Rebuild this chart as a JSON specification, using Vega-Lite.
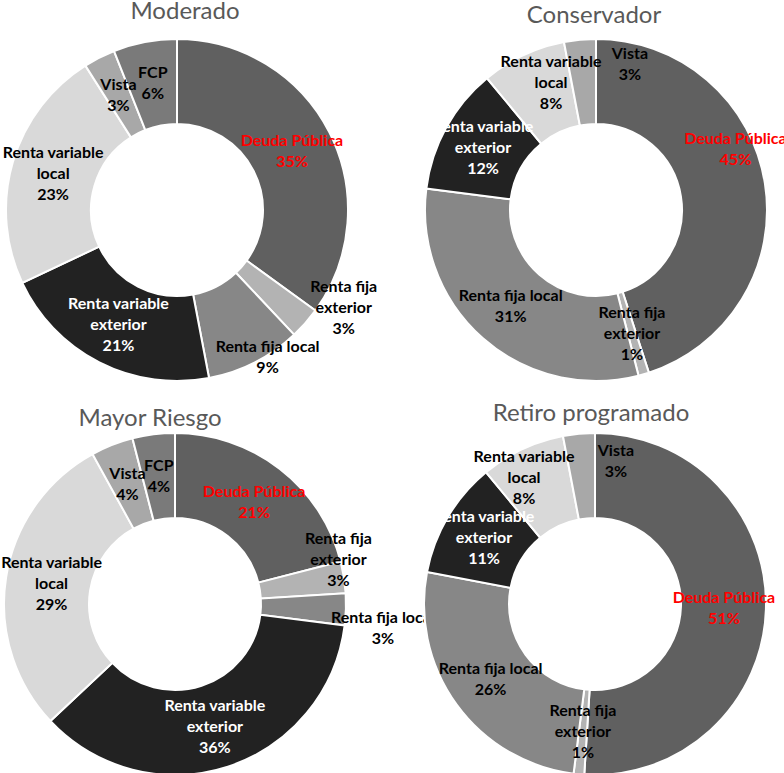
{
  "$schema": "https://vega.github.io/schema/vega-lite/v6.json",
  "padding": 0,
  "background": "white",
  "config": {
    "view": {"stroke": null},
    "title": {"font": "Lato", "fontSize": 24, "fontWeight": "normal", "color": "#595959", "anchor": "middle", "frame": "group"},
    "text": {"font": "Lato", "fontWeight": "bold", "fontSize": 16, "lineBreak": "\n", "lineHeight": 21, "radius": 129},
    "arc": {"radius": 171, "radius2": 86, "stroke": "white", "strokeWidth": 2}
  },
  "datasets": {
    "carteras": [
      {"plan": "Moderado", "categoria": "Deuda Pública", "pct": 35},
      {"plan": "Moderado", "categoria": "Renta fija exterior", "pct": 3},
      {"plan": "Moderado", "categoria": "Renta fija local", "pct": 9},
      {"plan": "Moderado", "categoria": "Renta variable exterior", "pct": 21},
      {"plan": "Moderado", "categoria": "Renta variable local", "pct": 23},
      {"plan": "Moderado", "categoria": "Vista", "pct": 3},
      {"plan": "Moderado", "categoria": "FCP", "pct": 6},
      {"plan": "Conservador", "categoria": "Deuda Pública", "pct": 45},
      {"plan": "Conservador", "categoria": "Renta fija exterior", "pct": 1},
      {"plan": "Conservador", "categoria": "Renta fija local", "pct": 31},
      {"plan": "Conservador", "categoria": "Renta variable exterior", "pct": 12},
      {"plan": "Conservador", "categoria": "Renta variable local", "pct": 8},
      {"plan": "Conservador", "categoria": "Vista", "pct": 3},
      {"plan": "Mayor Riesgo", "categoria": "Deuda Pública", "pct": 21},
      {"plan": "Mayor Riesgo", "categoria": "Renta fija exterior", "pct": 3},
      {"plan": "Mayor Riesgo", "categoria": "Renta fija local", "pct": 3},
      {"plan": "Mayor Riesgo", "categoria": "Renta variable exterior", "pct": 36},
      {"plan": "Mayor Riesgo", "categoria": "Renta variable local", "pct": 29},
      {"plan": "Mayor Riesgo", "categoria": "Vista", "pct": 4},
      {"plan": "Mayor Riesgo", "categoria": "FCP", "pct": 4},
      {"plan": "Retiro programado", "categoria": "Deuda Pública", "pct": 51},
      {"plan": "Retiro programado", "categoria": "Renta fija exterior", "pct": 1},
      {"plan": "Retiro programado", "categoria": "Renta fija local", "pct": 26},
      {"plan": "Retiro programado", "categoria": "Renta variable exterior", "pct": 11},
      {"plan": "Retiro programado", "categoria": "Renta variable local", "pct": 8},
      {"plan": "Retiro programado", "categoria": "Vista", "pct": 3}
    ]
  },
  "bounds": "flush",
  "columns": 2,
  "spacing": {"row": 52, "column": 54},
  "concat": [
    {
      "width": 352,
      "height": 342,
      "title": {"text": "Moderado", "dx": 8, "offset": 11},
      "data": {"name": "carteras"},
      "transform": [
        {"filter": "datum.plan === 'Moderado'"},
        {"calculate": "indexof(['Deuda Pública','Renta fija exterior','Renta fija local','Renta variable exterior','Renta variable local','Vista','FCP'], datum.categoria)", "as": "orden"},
        {"stack": "pct", "groupby": ["plan"], "sort": [{"field": "orden", "order": "ascending"}], "as": ["ini", "fin"]},
        {"calculate": "(datum.ini + datum.fin) / 2", "as": "medio"},
        {"calculate": "replace(replace(datum.categoria, 'Renta variable ', 'Renta variable\\n'), 'Renta fija exterior', 'Renta fija\\nexterior') + '\\n' + datum.pct + '%'", "as": "etiqueta"}
      ],
      "layer": [
        {
          "mark": "arc",
          "encoding": {
            "theta": {"field": "ini", "type": "quantitative", "scale": {"domain": [0, 100]}},
            "theta2": {"field": "fin"},
            "color": {
              "field": "categoria",
              "type": "nominal",
              "legend": null,
              "scale": {
                "domain": ["Deuda Pública", "Renta fija exterior", "Renta fija local", "Renta variable exterior", "Renta variable local", "Vista", "FCP"],
                "range": ["#606060", "#b3b3b3", "#878787", "#222222", "#d9d9d9", "#a8a8a8", "#7a7a7a"]
              }
            }
          }
        },
        {
          "transform": [{"filter": "indexof(['Renta variable exterior','Renta variable local'], datum.categoria) >= 0"}],
          "mark": {"type": "text", "dy": -21},
          "encoding": {
            "theta": {"field": "medio", "type": "quantitative", "stack": null, "scale": {"domain": [0, 100]}},
            "text": {"field": "etiqueta"},
            "color": {"condition": {"test": "datum.categoria === 'Renta variable exterior'", "value": "#ffffff"}, "value": "#000000"}
          }
        },
        {
          "transform": [{"filter": "indexof(['Deuda Pública','Vista','FCP'], datum.categoria) >= 0"}],
          "mark": {"type": "text", "dy": -10.5},
          "encoding": {
            "theta": {"field": "medio", "type": "quantitative", "stack": null, "scale": {"domain": [0, 100]}},
            "text": {"field": "etiqueta"},
            "color": {"condition": {"test": "datum.categoria === 'Deuda Pública'", "value": "#ff0000"}, "value": "#000000"}
          }
        },
        {
          "transform": [{"filter": "datum.categoria === 'Renta fija exterior'"}],
          "mark": {"type": "text", "dx": 70, "dy": -8, "color": "#000000"},
          "encoding": {
            "theta": {"field": "medio", "type": "quantitative", "stack": null, "scale": {"domain": [0, 100]}},
            "text": {"field": "etiqueta"}
          }
        },
        {
          "transform": [{"filter": "datum.categoria === 'Renta fija local'"}],
          "mark": {"type": "text", "dx": 32, "dy": 22.5, "color": "#000000"},
          "encoding": {
            "theta": {"field": "medio", "type": "quantitative", "stack": null, "scale": {"domain": [0, 100]}},
            "text": {"field": "etiqueta"}
          }
        }
      ]
    },
    {
      "width": 378,
      "height": 342,
      "title": {"text": "Conservador", "dx": -2, "offset": 7},
      "data": {"name": "carteras"},
      "transform": [
        {"filter": "datum.plan === 'Conservador'"},
        {"calculate": "indexof(['Deuda Pública','Renta fija exterior','Renta fija local','Renta variable exterior','Renta variable local','Vista','FCP'], datum.categoria)", "as": "orden"},
        {"stack": "pct", "groupby": ["plan"], "sort": [{"field": "orden", "order": "ascending"}], "as": ["ini", "fin"]},
        {"calculate": "(datum.ini + datum.fin) / 2", "as": "medio"},
        {"calculate": "replace(replace(datum.categoria, 'Renta variable ', 'Renta variable\\n'), 'Renta fija exterior', 'Renta fija\\nexterior') + '\\n' + datum.pct + '%'", "as": "etiqueta"}
      ],
      "layer": [
        {
          "mark": "arc",
          "encoding": {
            "theta": {"field": "ini", "type": "quantitative", "scale": {"domain": [0, 100]}},
            "theta2": {"field": "fin"},
            "color": {
              "field": "categoria",
              "type": "nominal",
              "legend": null,
              "scale": {
                "domain": ["Deuda Pública", "Renta fija exterior", "Renta fija local", "Renta variable exterior", "Renta variable local", "Vista", "FCP"],
                "range": ["#606060", "#b3b3b3", "#878787", "#222222", "#d9d9d9", "#a8a8a8", "#7a7a7a"]
              }
            }
          }
        },
        {
          "transform": [{"filter": "indexof(['Renta fija exterior','Renta variable exterior'], datum.categoria) >= 0"}],
          "mark": {"type": "text", "dy": -21},
          "encoding": {
            "theta": {"field": "medio", "type": "quantitative", "stack": null, "scale": {"domain": [0, 100]}},
            "text": {"field": "etiqueta"},
            "color": {"condition": {"test": "datum.categoria === 'Renta variable exterior'", "value": "#ffffff"}, "value": "#000000"}
          }
        },
        {
          "transform": [{"filter": "datum.categoria === 'Renta fija local'"}],
          "mark": {"type": "text", "dy": -10.5, "color": "#000000"},
          "encoding": {
            "theta": {"field": "medio", "type": "quantitative", "stack": null, "scale": {"domain": [0, 100]}},
            "text": {"field": "etiqueta"}
          }
        },
        {
          "transform": [{"filter": "datum.categoria === 'Deuda Pública'"}],
          "mark": {"type": "text", "dx": 12, "dy": -50.5, "color": "#ff0000"},
          "encoding": {
            "theta": {"field": "medio", "type": "quantitative", "stack": null, "scale": {"domain": [0, 100]}},
            "text": {"field": "etiqueta"}
          }
        },
        {
          "transform": [{"filter": "datum.categoria === 'Renta variable local'"}],
          "mark": {"type": "text", "dx": 10, "dy": -31, "color": "#000000"},
          "encoding": {
            "theta": {"field": "medio", "type": "quantitative", "stack": null, "scale": {"domain": [0, 100]}},
            "text": {"field": "etiqueta"}
          }
        },
        {
          "transform": [{"filter": "datum.categoria === 'Vista'"}],
          "mark": {"type": "text", "dx": 46, "dy": -27.5, "color": "#000000"},
          "encoding": {
            "theta": {"field": "medio", "type": "quantitative", "stack": null, "scale": {"domain": [0, 100]}},
            "text": {"field": "etiqueta"}
          }
        }
      ]
    },
    {
      "width": 348,
      "height": 342,
      "title": {"text": "Mayor Riesgo", "dx": -25, "offset": -2},
      "data": {"name": "carteras"},
      "transform": [
        {"filter": "datum.plan === 'Mayor Riesgo'"},
        {"calculate": "indexof(['Deuda Pública','Renta fija exterior','Renta fija local','Renta variable exterior','Renta variable local','Vista','FCP'], datum.categoria)", "as": "orden"},
        {"stack": "pct", "groupby": ["plan"], "sort": [{"field": "orden", "order": "ascending"}], "as": ["ini", "fin"]},
        {"calculate": "(datum.ini + datum.fin) / 2", "as": "medio"},
        {"calculate": "replace(replace(datum.categoria, 'Renta variable ', 'Renta variable\\n'), 'Renta fija exterior', 'Renta fija\\nexterior') + '\\n' + datum.pct + '%'", "as": "etiqueta"}
      ],
      "layer": [
        {
          "mark": "arc",
          "encoding": {
            "theta": {"field": "ini", "type": "quantitative", "scale": {"domain": [0, 100]}},
            "theta2": {"field": "fin"},
            "color": {
              "field": "categoria",
              "type": "nominal",
              "legend": null,
              "scale": {
                "domain": ["Deuda Pública", "Renta fija exterior", "Renta fija local", "Renta variable exterior", "Renta variable local", "Vista", "FCP"],
                "range": ["#606060", "#b3b3b3", "#878787", "#222222", "#d9d9d9", "#a8a8a8", "#7a7a7a"]
              }
            }
          }
        },
        {
          "transform": [{"filter": "datum.categoria === 'Renta variable exterior'"}],
          "mark": {"type": "text", "dy": -21, "color": "#ffffff"},
          "encoding": {
            "theta": {"field": "medio", "type": "quantitative", "stack": null, "scale": {"domain": [0, 100]}},
            "text": {"field": "etiqueta"}
          }
        },
        {
          "transform": [{"filter": "indexof(['Deuda Pública','Vista','FCP'], datum.categoria) >= 0"}],
          "mark": {"type": "text", "dy": -10.5},
          "encoding": {
            "theta": {"field": "medio", "type": "quantitative", "stack": null, "scale": {"domain": [0, 100]}},
            "text": {"field": "etiqueta"},
            "color": {"condition": {"test": "datum.categoria === 'Deuda Pública'", "value": "#ff0000"}, "value": "#000000"}
          }
        },
        {
          "transform": [{"filter": "datum.categoria === 'Renta variable local'"}],
          "mark": {"type": "text", "dx": 4, "dy": -21, "color": "#000000"},
          "encoding": {
            "theta": {"field": "medio", "type": "quantitative", "stack": null, "scale": {"domain": [0, 100]}},
            "text": {"field": "etiqueta"}
          }
        },
        {
          "transform": [{"filter": "datum.categoria === 'Renta fija exterior'"}],
          "mark": {"type": "text", "dx": 36, "dy": -45, "color": "#000000"},
          "encoding": {
            "theta": {"field": "medio", "type": "quantitative", "stack": null, "scale": {"domain": [0, 100]}},
            "text": {"field": "etiqueta"}
          }
        },
        {
          "transform": [{"filter": "datum.categoria === 'Renta fija local'"}],
          "mark": {"type": "text", "dx": 79, "dy": 9.5, "color": "#000000"},
          "encoding": {
            "theta": {"field": "medio", "type": "quantitative", "stack": null, "scale": {"domain": [0, 100]}},
            "text": {"field": "etiqueta"}
          }
        }
      ]
    },
    {
      "width": 376,
      "height": 342,
      "title": {"text": "Retiro programado", "dx": -4, "offset": 3},
      "data": {"name": "carteras"},
      "transform": [
        {"filter": "datum.plan === 'Retiro programado'"},
        {"calculate": "indexof(['Deuda Pública','Renta fija exterior','Renta fija local','Renta variable exterior','Renta variable local','Vista','FCP'], datum.categoria)", "as": "orden"},
        {"stack": "pct", "groupby": ["plan"], "sort": [{"field": "orden", "order": "ascending"}], "as": ["ini", "fin"]},
        {"calculate": "(datum.ini + datum.fin) / 2", "as": "medio"},
        {"calculate": "replace(replace(datum.categoria, 'Renta variable ', 'Renta variable\\n'), 'Renta fija exterior', 'Renta fija\\nexterior') + '\\n' + datum.pct + '%'", "as": "etiqueta"}
      ],
      "layer": [
        {
          "mark": "arc",
          "encoding": {
            "theta": {"field": "ini", "type": "quantitative", "scale": {"domain": [0, 100]}},
            "theta2": {"field": "fin"},
            "color": {
              "field": "categoria",
              "type": "nominal",
              "legend": null,
              "scale": {
                "domain": ["Deuda Pública", "Renta fija exterior", "Renta fija local", "Renta variable exterior", "Renta variable local", "Vista", "FCP"],
                "range": ["#606060", "#b3b3b3", "#878787", "#222222", "#d9d9d9", "#a8a8a8", "#7a7a7a"]
              }
            }
          }
        },
        {
          "transform": [{"filter": "indexof(['Renta fija exterior','Renta variable exterior'], datum.categoria) >= 0"}],
          "mark": {"type": "text", "dy": -21},
          "encoding": {
            "theta": {"field": "medio", "type": "quantitative", "stack": null, "scale": {"domain": [0, 100]}},
            "text": {"field": "etiqueta"},
            "color": {"condition": {"test": "datum.categoria === 'Renta variable exterior'", "value": "#ffffff"}, "value": "#000000"}
          }
        },
        {
          "transform": [{"filter": "indexof(['Deuda Pública','Renta fija local'], datum.categoria) >= 0"}],
          "mark": {"type": "text", "dy": -10.5},
          "encoding": {
            "theta": {"field": "medio", "type": "quantitative", "stack": null, "scale": {"domain": [0, 100]}},
            "text": {"field": "etiqueta"},
            "color": {"condition": {"test": "datum.categoria === 'Deuda Pública'", "value": "#ff0000"}, "value": "#000000"}
          }
        },
        {
          "transform": [{"filter": "datum.categoria === 'Renta variable local'"}],
          "mark": {"type": "text", "dx": -16, "dy": -30, "color": "#000000"},
          "encoding": {
            "theta": {"field": "medio", "type": "quantitative", "stack": null, "scale": {"domain": [0, 100]}},
            "text": {"field": "etiqueta"}
          }
        },
        {
          "transform": [{"filter": "datum.categoria === 'Vista'"}],
          "mark": {"type": "text", "dx": 33, "dy": -24.5, "color": "#000000"},
          "encoding": {
            "theta": {"field": "medio", "type": "quantitative", "stack": null, "scale": {"domain": [0, 100]}},
            "text": {"field": "etiqueta"}
          }
        }
      ]
    }
  ]
}
